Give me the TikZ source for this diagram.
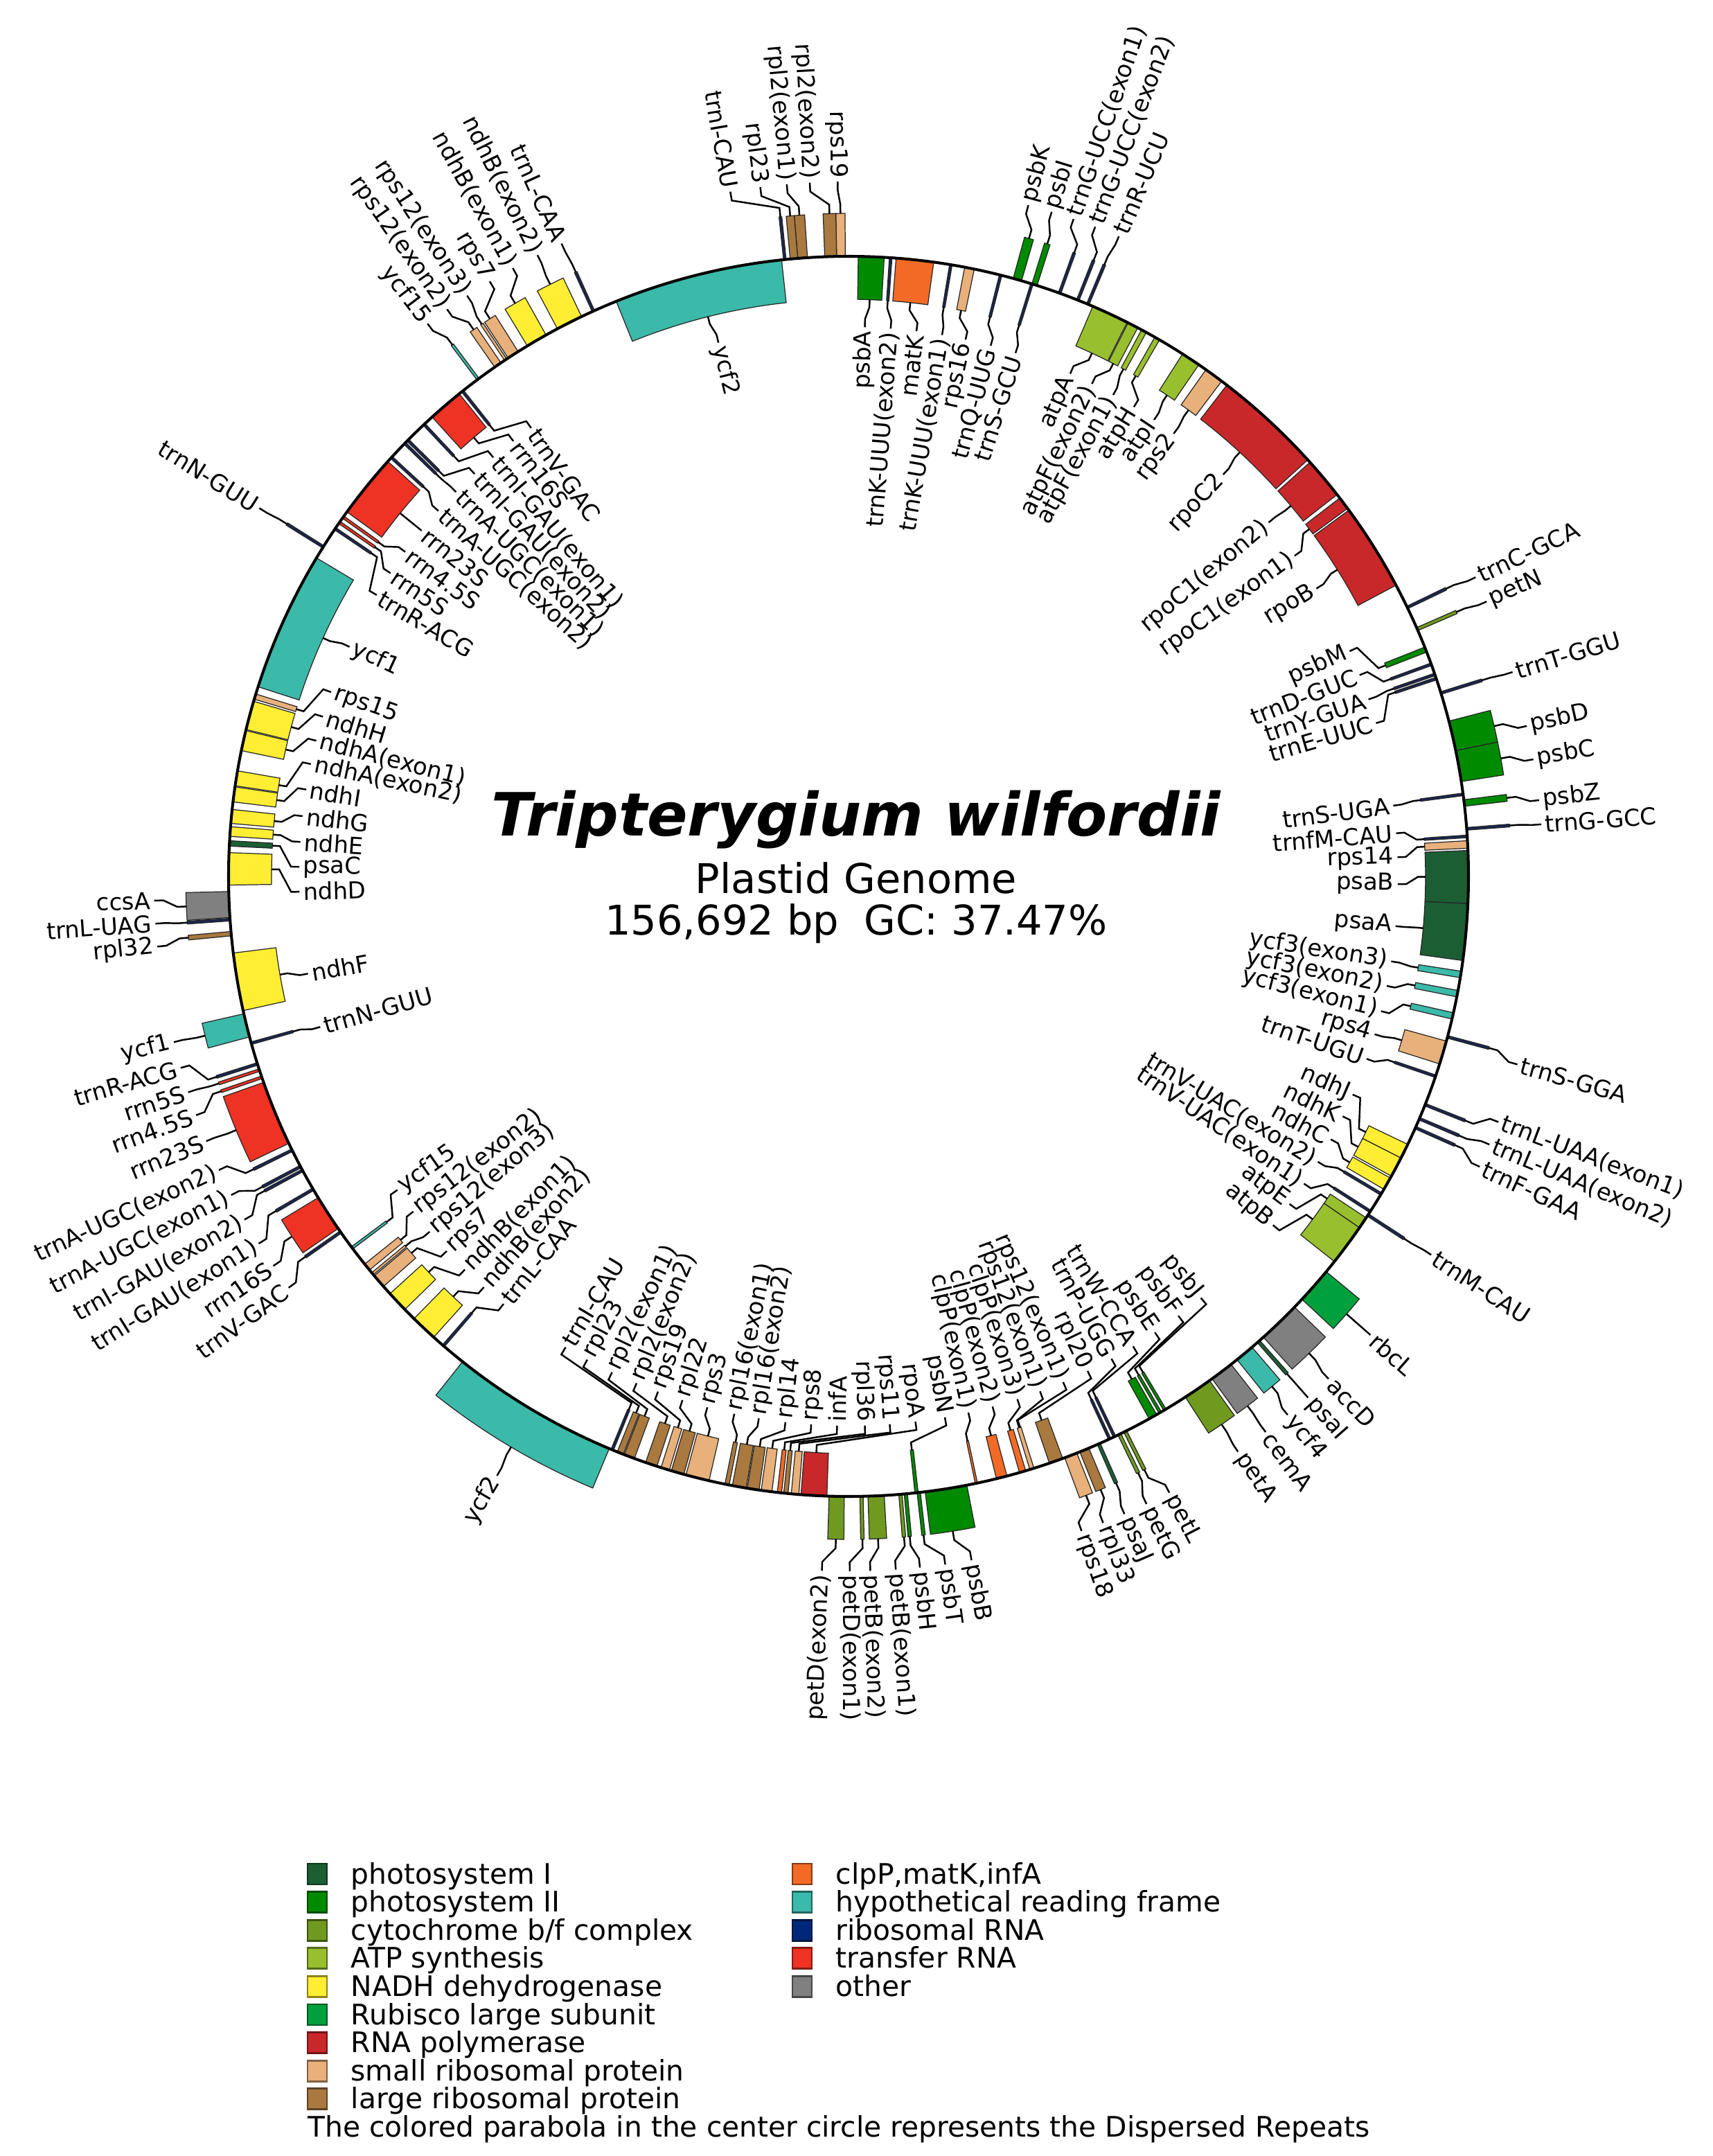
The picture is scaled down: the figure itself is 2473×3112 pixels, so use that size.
\documentclass[tikz,border=0pt]{standalone}
\usepackage{fontspec}
\setmainfont{DejaVu Sans}
\definecolor{cPSI}{HTML}{1B5E34}
\definecolor{cPSII}{HTML}{008A00}
\definecolor{cCYT}{HTML}{6F9A1F}
\definecolor{cATP}{HTML}{98BF2E}
\definecolor{cNDH}{HTML}{FFEE33}
\definecolor{cRBC}{HTML}{00A03C}
\definecolor{cRPO}{HTML}{C9282A}
\definecolor{cRPS}{HTML}{E8B07B}
\definecolor{cRPL}{HTML}{A9793F}
\definecolor{cCLP}{HTML}{F26A26}
\definecolor{cYCF}{HTML}{3BB9A9}
\definecolor{cRRN}{HTML}{00287A}
\definecolor{cTRR}{HTML}{EE3224}
\definecolor{cOTH}{HTML}{808080}
\definecolor{cTRN}{HTML}{1A2550}
\newcounter{lbc}
\newcounter{lgc}
\tikzset{
  leader/.style={line width=0.7pt,black},
  lbl/.style={font=\fontsize{9.6}{10.5}\selectfont,inner sep=0pt},
  leg/.style={font=\fontsize{11.6}{13}\selectfont,inner sep=0pt},
  genebox/.style={draw=black!85,line width=0.35pt}
}
% gene box: start, end (clockwise degrees from top), side (1 out,-1 in), colour
\newcommand\GB[4]{%
  \pgfmathsetmacro\gbA{90-(#1)}%
  \pgfmathsetmacro\gbB{90-(#2)}%
  \pgfmathsetmacro\gbR{895+62*(#3)}%
  \filldraw[genebox,fill=#4] (\gbA:895) arc[start angle=\gbA,end angle=\gbB,radius=895] -- (\gbB:\gbR) arc[start angle=\gbB,end angle=\gbA,radius=\gbR] -- cycle;}
\newcommand\GT[3]{\GB{#1-0.12}{#1+0.12}{#2}{#3}}
% label: gene angle, label angle, side, text
\newcommand\LB[4]{%
  \pgfmathsetmacro\lbG{90-(#1)}%
  \pgfmathsetmacro\lbL{90-(#2)}%
  \ifnum#3>0
    \def\lbA{957}\def\lbB{970}\def\lbC{990}\def\lbD{1003}\def\lbT{1008}%
  \else
    \def\lbA{833}\def\lbB{822}\def\lbC{805}\def\lbD{793}\def\lbT{788}%
  \fi
  \pgfmathsetmacro\lbS{sin(#2)}%
  \pgfmathsetmacro\lbQ{sin(#2)*(#3)}%
  \ifdim\lbS pt>0pt \pgfmathsetmacro\lbRot{\lbL}\else\pgfmathsetmacro\lbRot{\lbL+180}\fi
  \ifdim\lbQ pt>0pt \def\lbAnc{west}\else\def\lbAnc{east}\fi
  \stepcounter{lbc}%
  \draw[leader] (\lbG:\lbA) -- (\lbG:\lbB) -- (\lbL:\lbC) -- (\lbL:\lbD);
  \node[lbl,rotate=\lbRot,anchor=\lbAnc] (lab\arabic{lbc}) at (\lbL:\lbT) {#4};}
% legend entry: square left x, row, colour, text
\newcommand\LG[4]{%
  \pgfmathsetmacro\lgy{1265-(2719+40.6*(#2))}%
  \stepcounter{lgc}%
  \filldraw[fill=#3,draw=#3!55!black,line width=0.8pt] (#1,\lgy-1) rectangle ++(28,30);
  \node[leg,anchor=base west] (leg\arabic{lgc}) at (#1+62,\lgy) {#4};}
\begin{document}
\begin{tikzpicture}[x=0.01cm,y=0.01cm]
\useasboundingbox[fill=white] (-1225,-1847) rectangle (1248,1265);
% ================= genes =================
% --- IRb (top / upper left)
\GB{-1.1}{-0.3}{1}{cRPS}
\GB{-2.2}{-1.1}{1}{cRPL}
\GB{-4.7}{-3.8}{1}{cRPL}
\GB{-5.4}{-4.7}{1}{cRPL}
\GT{-5.9}{1}{cTRN}
\GB{-22.0}{-6.2}{-1}{cYCF}
\GT{-24.3}{1}{cTRN}
\GB{-28.0}{-25.5}{1}{cNDH}
\GB{-31.2}{-29.2}{1}{cNDH}
\GB{-33.3}{-32.2}{1}{cRPS}
\GB{-33.7}{-33.45}{1}{cRPS}
\GB{-34.8}{-34.1}{1}{cRPS}
\GT{-36.7}{1}{cYCF}
\GT{-38.5}{-1}{cTRN}
\GB{-42.2}{-38.9}{-1}{cTRR}
\GT{-43.2}{-1}{cTRN}
\GT{-45.3}{-1}{cTRN}
\GT{-45.7}{-1}{cTRN}
\GT{-47.5}{-1}{cTRN}
\GB{-54.0}{-48.0}{-1}{cTRR}
\GT{-54.6}{-1}{cTRR}
\GT{-55.2}{-1}{cTRR}
\GT{-55.9}{-1}{cTRN}
\GT{-57.9}{1}{cTRN}
\GB{-72.2}{-59.1}{-1}{cYCF}
% --- SSC
\GB{-73.4}{-72.9}{-1}{cRPS}
\GB{-76.3}{-73.6}{-1}{cNDH}
\GB{-78.3}{-76.4}{-1}{cNDH}
\GB{-81.6}{-80.2}{-1}{cNDH}
\GB{-83.1}{-81.7}{-1}{cNDH}
\GB{-85.1}{-83.8}{-1}{cNDH}
\GB{-86.3}{-85.4}{-1}{cNDH}
\GB{-87.2}{-86.7}{-1}{cPSI}
\GB{-90.8}{-87.8}{-1}{cNDH}
\GB{-93.8}{-91.4}{1}{cOTH}
\GT{-94.0}{1}{cTRN}
\GB{-95.5}{-95.1}{1}{cRPL}
\GB{-102.5}{-97.1}{-1}{cNDH}
% --- IRa (lower left)
\GB{-105.0}{-102.8}{1}{cYCF}
\GT{-105.6}{-1}{cTRN}
\GT{-107.6}{1}{cTRN}
\GT{-108.2}{1}{cTRR}
\GT{-108.9}{1}{cTRR}
\GB{-115.5}{-109.4}{1}{cTRR}
\GT{-116.2}{1}{cTRN}
\GT{-117.9}{1}{cTRN}
\GT{-118.3}{1}{cTRN}
\GT{-120.3}{1}{cTRN}
\GB{-124.6}{-121.2}{1}{cTRR}
\GT{-125.0}{1}{cTRN}
\GT{-126.8}{-1}{cYCF}
\GB{-129.4}{-128.7}{-1}{cRPS}
\GT{-129.85}{-1}{cRPS}
\GB{-131.4}{-130.1}{-1}{cRPS}
\GB{-134.3}{-132.3}{-1}{cNDH}
\GB{-138.0}{-135.5}{-1}{cNDH}
\GT{-139.2}{-1}{cTRN}
\GB{-157.3}{-141.5}{1}{cYCF}
\GT{202.4}{-1}{cTRN}
\GB{201.3}{201.9}{-1}{cRPL}
\GB{200.2}{201.2}{-1}{cRPL}
\GB{198.0}{199.1}{-1}{cRPL}
\GB{196.8}{197.6}{-1}{cRPS}
% --- LSC bottom
\GB{195.4}{196.6}{-1}{cRPL}
\GB{193.0}{195.2}{-1}{cRPS}
\GB{191.1}{191.5}{-1}{cRPL}
\GB{189.5}{190.8}{-1}{cRPL}
\GB{188.3}{189.4}{-1}{cRPL}
\GB{187.1}{188.1}{-1}{cRPS}
\GB{186.2}{186.6}{-1}{cCLP}
\GB{185.6}{186.0}{-1}{cRPL}
\GB{184.6}{185.3}{-1}{cRPS}
\GB{182.0}{184.4}{-1}{cRPO}
\GB{180.4}{181.8}{1}{cCYT}
\GB{178.65}{178.95}{1}{cCYT}
\GB{176.7}{178.2}{1}{cCYT}
\GB{175.05}{175.35}{1}{cCYT}
\GB{174.55}{174.85}{1}{cPSII}
\GB{173.35}{173.65}{1}{cPSII}
\GB{169.0}{172.9}{1}{cPSII}
\GB{173.55}{173.85}{-1}{cPSII}
\GB{168.0}{168.2}{-1}{cCLP}
\GB{165.2}{166.2}{-1}{cCLP}
\GB{163.4}{164.0}{-1}{cCLP}
\GB{162.6}{163.0}{-1}{cRPS}
\GB{159.8}{161.1}{-1}{cRPL}
\GB{158.4}{159.6}{1}{cRPS}
\GB{157.2}{158.1}{1}{cRPL}
\GB{156.05}{156.35}{1}{cPSI}
\GT{155.1}{-1}{cTRN}
\GT{154.6}{-1}{cTRN}
\GB{153.95}{154.25}{1}{cCYT}
\GB{153.35}{153.65}{1}{cCYT}
\GB{150.2}{151.0}{-1}{cPSII}
\GB{149.7}{149.95}{-1}{cPSII}
\GB{149.2}{149.45}{-1}{cPSII}
\GB{144.4}{147.1}{1}{cCYT}
\GB{141.9}{144.1}{1}{cOTH}
\GB{139.4}{141.2}{1}{cYCF}
\GB{138.45}{138.75}{1}{cPSI}
\GB{134.0}{138.0}{1}{cOTH}
\GB{129.6}{133.0}{1}{cRBC}
% --- LSC right
\GB{124.5}{128.4}{-1}{cATP}
\GB{123.4}{124.5}{-1}{cATP}
\GT{123.1}{1}{cTRN}
\GT{122.7}{-1}{cTRN}
\GT{120.8}{-1}{cTRN}
\GB{119.1}{120.3}{-1}{cNDH}
\GB{117.0}{118.9}{-1}{cNDH}
\GB{115.6}{117.0}{-1}{cNDH}
\GT{113.9}{1}{cTRN}
\GT{113.0}{1}{cTRN}
\GT{111.6}{1}{cTRN}
\GT{108.8}{-1}{cTRN}
\GB{105.4}{107.6}{-1}{cRPS}
\GT{105.0}{1}{cTRN}
\GB{102.7}{103.3}{-1}{cYCF}
\GB{100.6}{101.2}{-1}{cYCF}
\GB{98.8}{99.4}{-1}{cYCF}
\GB{92.5}{97.8}{-1}{cPSI}
\GB{87.6}{92.5}{-1}{cPSI}
\GB{86.7}{87.4}{-1}{cRPS}
\GT{86.3}{-1}{cTRN}
\GT{85.6}{1}{cTRN}
\GB{82.9}{83.5}{1}{cPSII}
\GT{82.4}{-1}{cTRN}
\GB{78.3}{81.2}{1}{cPSII}
\GB{75.5}{78.3}{1}{cPSII}
\GT{72.8}{1}{cTRN}
\GT{71.4}{-1}{cTRN}
\GT{71.0}{-1}{cTRN}
\GT{70.0}{-1}{cTRN}
\GB{68.3}{68.8}{-1}{cPSII}
\GB{66.35}{66.65}{1}{cCYT}
\GT{64.3}{1}{cTRN}
\GB{53.8}{62.0}{-1}{cRPO}
\GB{52.4}{53.6}{-1}{cRPO}
\GB{48.1}{52.0}{-1}{cRPO}
\GB{37.6}{47.8}{-1}{cRPO}
\GB{35.2}{37.0}{-1}{cRPS}
\GB{32.6}{34.4}{-1}{cATP}
\GB{29.6}{30.1}{-1}{cATP}
\GB{28.2}{28.7}{-1}{cATP}
\GB{26.8}{27.8}{-1}{cATP}
\GB{23.2}{26.7}{-1}{cATP}
\GT{22.7}{1}{cTRN}
\GT{21.7}{1}{cTRN}
\GT{19.9}{1}{cTRN}
\GB{17.2}{17.7}{1}{cPSII}
\GB{15.4}{16.2}{1}{cPSII}
\GT{17.2}{-1}{cTRN}
\GT{14.2}{-1}{cTRN}
\GB{10.8}{11.7}{-1}{cRPS}
\GT{9.5}{-1}{cTRN}
\GB{4.4}{7.9}{-1}{cCLP}
\GT{3.9}{-1}{cTRN}
\GB{0.9}{3.3}{-1}{cPSII}
% ================= circle =================
\draw[line width=1.15pt] (0,0) circle[radius=895];
% ================= labels =================
\LB{-0.7}{-0.9}{1}{rps19}
\LB{-1.65}{-3.2}{1}{rpl2(exon2)}
\LB{-4.25}{-5.1}{1}{rpl2(exon1)}
\LB{-5.05}{-7.3}{1}{rpl23}
\LB{-5.9}{-9.8}{1}{trnI-CAU}
\LB{-14.1}{-13.7}{-1}{ycf2}
\LB{-24.3}{-24.4}{1}{trnL-CAA}
\LB{-26.75}{-26.6}{1}{ndhB(exon2)}
\LB{-30.2}{-28.9}{1}{ndhB(exon1)}
\LB{-32.75}{-31.1}{1}{rps7}
\LB{-33.6}{-33.3}{1}{rps12(exon3)}
\LB{-34.45}{-35.3}{1}{rps12(exon2)}
\LB{-36.7}{-37.3}{1}{ycf15}
\LB{-38.5}{-35.3}{-1}{trnV-GAC}
\LB{-40.5}{-37.6}{-1}{rrn16S}
\LB{-43.2}{-40.3}{-1}{trnI-GAU(exon1)}
\LB{-45.3}{-42.9}{-1}{trnI-GAU(exon2)}
\LB{-45.7}{-45.6}{-1}{trnA-UGC(exon1)}
\LB{-47.5}{-48.3}{-1}{trnA-UGC(exon2)}
\LB{-51.0}{-51.0}{-1}{rrn23S}
\LB{-54.6}{-53.8}{-1}{rrn4.5S}
\LB{-55.2}{-56.5}{-1}{rrn5S}
\LB{-55.9}{-59.2}{-1}{trnR-ACG}
\LB{-57.9}{-58.0}{1}{trnN-GUU}
\LB{-65.6}{-65.3}{-1}{ycf1}
\LB{-73.15}{-70.4}{-1}{rps15}
\LB{-75.0}{-73.1}{-1}{ndhH}
\LB{-77.3}{-75.7}{-1}{ndhA(exon1)}
\LB{-80.9}{-78.2}{-1}{ndhA(exon2)}
\LB{-82.4}{-80.9}{-1}{ndhI}
\LB{-84.5}{-83.7}{-1}{ndhG}
\LB{-85.85}{-86.4}{-1}{ndhE}
\LB{-86.95}{-89.0}{-1}{psaC}
\LB{-89.3}{-91.6}{-1}{ndhD}
\LB{-92.6}{-92.0}{1}{ccsA}
\LB{-94.0}{-93.9}{1}{trnL-UAG}
\LB{-95.3}{-95.8}{1}{rpl32}
\LB{-99.8}{-100.2}{-1}{ndhF}
\LB{-103.9}{-103.8}{1}{ycf1}
\LB{-105.6}{-105.9}{-1}{trnN-GUU}
\LB{-107.6}{-106.0}{1}{trnR-ACG}
\LB{-108.2}{-108.1}{1}{rrn5S}
\LB{-108.9}{-110.1}{1}{rrn4.5S}
\LB{-112.5}{-112.4}{1}{rrn23S}
\LB{-116.2}{-115.0}{1}{trnA-UGC(exon2)}
\LB{-117.9}{-117.3}{1}{trnA-UGC(exon1)}
\LB{-118.3}{-119.6}{1}{trnI-GAU(exon2)}
\LB{-120.3}{-121.9}{1}{trnI-GAU(exon1)}
\LB{-122.9}{-124.1}{1}{rrn16S}
\LB{-125.0}{-126.3}{1}{trnV-GAC}
\LB{-126.8}{-124.8}{-1}{ycf15}
\LB{-129.05}{-127.6}{-1}{rps12(exon2)}
\LB{-129.85}{-130.3}{-1}{rps12(exon3)}
\LB{-130.75}{-133.0}{-1}{rps7}
\LB{-133.3}{-135.7}{-1}{ndhB(exon1)}
\LB{-136.75}{-138.4}{-1}{ndhB(exon2)}
\LB{-139.2}{-141.1}{-1}{trnL-CAA}
\LB{-149.4}{-149.6}{1}{ycf2}
\LB{202.4}{211.0}{-1}{trnI-CAU}
\LB{201.6}{208.4}{-1}{rpl23}
\LB{200.7}{205.5}{-1}{rpl2(exon1)}
\LB{198.55}{202.7}{-1}{rpl2(exon2)}
\LB{197.2}{200.3}{-1}{rps19}
\LB{196.0}{197.6}{-1}{rpl22}
\LB{194.1}{194.9}{-1}{rps3}
\LB{191.3}{192.0}{-1}{rpl16(exon1)}
\LB{190.15}{189.4}{-1}{rpl16(exon2)}
\LB{188.85}{186.6}{-1}{rpl14}
\LB{187.6}{183.9}{-1}{rps8}
\LB{186.4}{181.2}{-1}{infA}
\LB{185.8}{178.3}{-1}{rpl36}
\LB{184.95}{175.7}{-1}{rps11}
\LB{183.2}{173.0}{-1}{rpoA}
\LB{181.1}{182.2}{1}{petD(exon2)}
\LB{178.8}{179.9}{1}{petD(exon1)}
\LB{177.45}{178.2}{1}{petB(exon2)}
\LB{175.2}{176.1}{1}{petB(exon1)}
\LB{174.7}{174.1}{1}{psbH}
\LB{173.5}{172.0}{1}{psbT}
\LB{170.95}{169.8}{1}{psbB}
\LB{173.7}{169.9}{-1}{psbN}
\LB{168.1}{167.4}{-1}{clpP(exon1)}
\LB{165.7}{164.8}{-1}{clpP(exon2)}
\LB{163.7}{162.1}{-1}{clpP(exon3)}
\LB{162.8}{159.6}{-1}{rps12(exon1)}
\LB{162.7}{157.0}{-1}{rps12(exon1)}
\LB{160.45}{154.2}{-1}{rpl20}
\LB{155.1}{151.4}{-1}{trnP-UGG}
\LB{154.6}{148.8}{-1}{trnW-CCA}
\LB{150.6}{146.1}{-1}{psbE}
\LB{149.8}{143.1}{-1}{psbF}
\LB{149.3}{140.1}{-1}{psbJ}
\LB{159.0}{160.4}{1}{rps18}
\LB{157.65}{158.5}{1}{rpl33}
\LB{156.2}{156.6}{1}{psaJ}
\LB{154.1}{154.6}{1}{petG}
\LB{153.5}{152.5}{1}{petL}
\LB{145.75}{145.9}{1}{petA}
\LB{143.0}{143.1}{1}{cemA}
\LB{140.3}{140.8}{1}{ycf4}
\LB{138.6}{138.6}{1}{psaI}
\LB{136.0}{136.3}{1}{accD}
\LB{131.3}{131.3}{1}{rbcL}
\LB{123.1}{123.0}{1}{trnM-CAU}
\LB{126.45}{129.4}{-1}{atpB}
\LB{123.95}{126.6}{-1}{atpE}
\LB{122.7}{124.0}{-1}{trnV-UAC(exon1)}
\LB{120.8}{121.3}{-1}{trnV-UAC(exon2)}
\LB{119.7}{118.6}{-1}{ndhC}
\LB{117.95}{115.9}{-1}{ndhK}
\LB{116.3}{113.4}{-1}{ndhJ}
\LB{113.9}{114.7}{1}{trnF-GAA}
\LB{113.0}{112.7}{1}{trnL-UAA(exon2)}
\LB{111.6}{110.7}{1}{trnL-UAA(exon1)}
\LB{108.8}{109.4}{-1}{trnT-UGU}
\LB{106.5}{106.7}{-1}{rps4}
\LB{105.0}{105.7}{1}{trnS-GGA}
\LB{103.0}{104.2}{-1}{ycf3(exon1)}
\LB{100.9}{101.5}{-1}{ycf3(exon2)}
\LB{99.1}{98.9}{-1}{ycf3(exon3)}
\LB{95.15}{95.2}{-1}{psaA}
\LB{90.05}{90.8}{-1}{psaB}
\LB{87.05}{88.0}{-1}{rps14}
\LB{86.3}{85.5}{-1}{trnfM-CAU}
\LB{85.6}{85.7}{1}{trnG-GCC}
\LB{83.2}{83.7}{1}{psbZ}
\LB{82.4}{82.6}{-1}{trnS-UGA}
\LB{79.75}{80.3}{1}{psbC}
\LB{76.9}{77.5}{1}{psbD}
\LB{72.8}{72.9}{1}{trnT-GGU}
\LB{71.4}{73.8}{-1}{trnE-UUC}
\LB{71.0}{71.2}{-1}{trnY-GUA}
\LB{70.0}{68.5}{-1}{trnD-GUC}
\LB{68.55}{65.8}{-1}{psbM}
\LB{66.5}{66.7}{1}{petN}
\LB{64.3}{64.5}{1}{trnC-GCA}
\LB{57.9}{58.4}{-1}{rpoB}
\LB{53.0}{54.3}{-1}{rpoC1(exon1)}
\LB{50.05}{49.9}{-1}{rpoC1(exon2)}
\LB{42.7}{43.0}{-1}{rpoC2}
\LB{36.1}{36.3}{-1}{rps2}
\LB{33.5}{33.8}{-1}{atpI}
\LB{29.85}{31.3}{-1}{atpH}
\LB{28.45}{28.8}{-1}{atpF(exon1)}
\LB{27.3}{26.3}{-1}{atpF(exon2)}
\LB{24.95}{23.8}{-1}{atpA}
\LB{22.7}{22.9}{1}{trnR-UCU}
\LB{21.7}{20.8}{1}{trnG-UCC(exon2)}
\LB{19.9}{18.9}{1}{trnG-UCC(exon1)}
\LB{17.45}{17.0}{1}{psbI}
\LB{15.8}{15.0}{1}{psbK}
\LB{17.2}{17.7}{-1}{trnS-GCU}
\LB{14.2}{15.0}{-1}{trnQ-UUG}
\LB{11.25}{12.3}{-1}{rps16}
\LB{9.5}{9.8}{-1}{trnK-UUU(exon1)}
\LB{6.15}{7.1}{-1}{matK}
\LB{3.9}{4.4}{-1}{trnK-UUU(exon2)}
\LB{2.1}{1.7}{-1}{psbA}
% ================= centre text =================
\node[font=\fontsize{24.5}{28}\selectfont\bfseries\itshape,anchor=base,inner sep=0pt] (title) at (11,58) {Tripterygium wilfordii};
\node[font=\fontsize{16.8}{20}\selectfont,anchor=base,inner sep=0pt] (subtitle) at (11,-25) {Plastid Genome};
\node[font=\fontsize{16.8}{20}\selectfont,anchor=base,inner sep=0pt] (stats) at (11,-85) {156,692 bp\hspace{0.62em}GC: 37.47\%};
% ================= legend =================
\LG{-781}{0}{cPSI}{photosystem I}
\LG{-781}{1}{cPSII}{photosystem II}
\LG{-781}{2}{cCYT}{cytochrome b/f complex}
\LG{-781}{3}{cATP}{ATP synthesis}
\LG{-781}{4}{cNDH}{NADH dehydrogenase}
\LG{-781}{5}{cRBC}{Rubisco large subunit}
\LG{-781}{6}{cRPO}{RNA polymerase}
\LG{-781}{7}{cRPS}{small ribosomal protein}
\LG{-781}{8}{cRPL}{large ribosomal protein}
\LG{-81}{0}{cCLP}{clpP,matK,infA}
\LG{-81}{1}{cYCF}{hypothetical reading frame}
\LG{-81}{2}{cRRN}{ribosomal RNA}
\LG{-81}{3}{cTRR}{transfer RNA}
\LG{-81}{4}{cOTH}{other}
\node[leg,anchor=base west] (note) at (-781,-1819) {The colored parabola in the center circle represents the Dispersed Repeats};
\end{tikzpicture}
\end{document}
